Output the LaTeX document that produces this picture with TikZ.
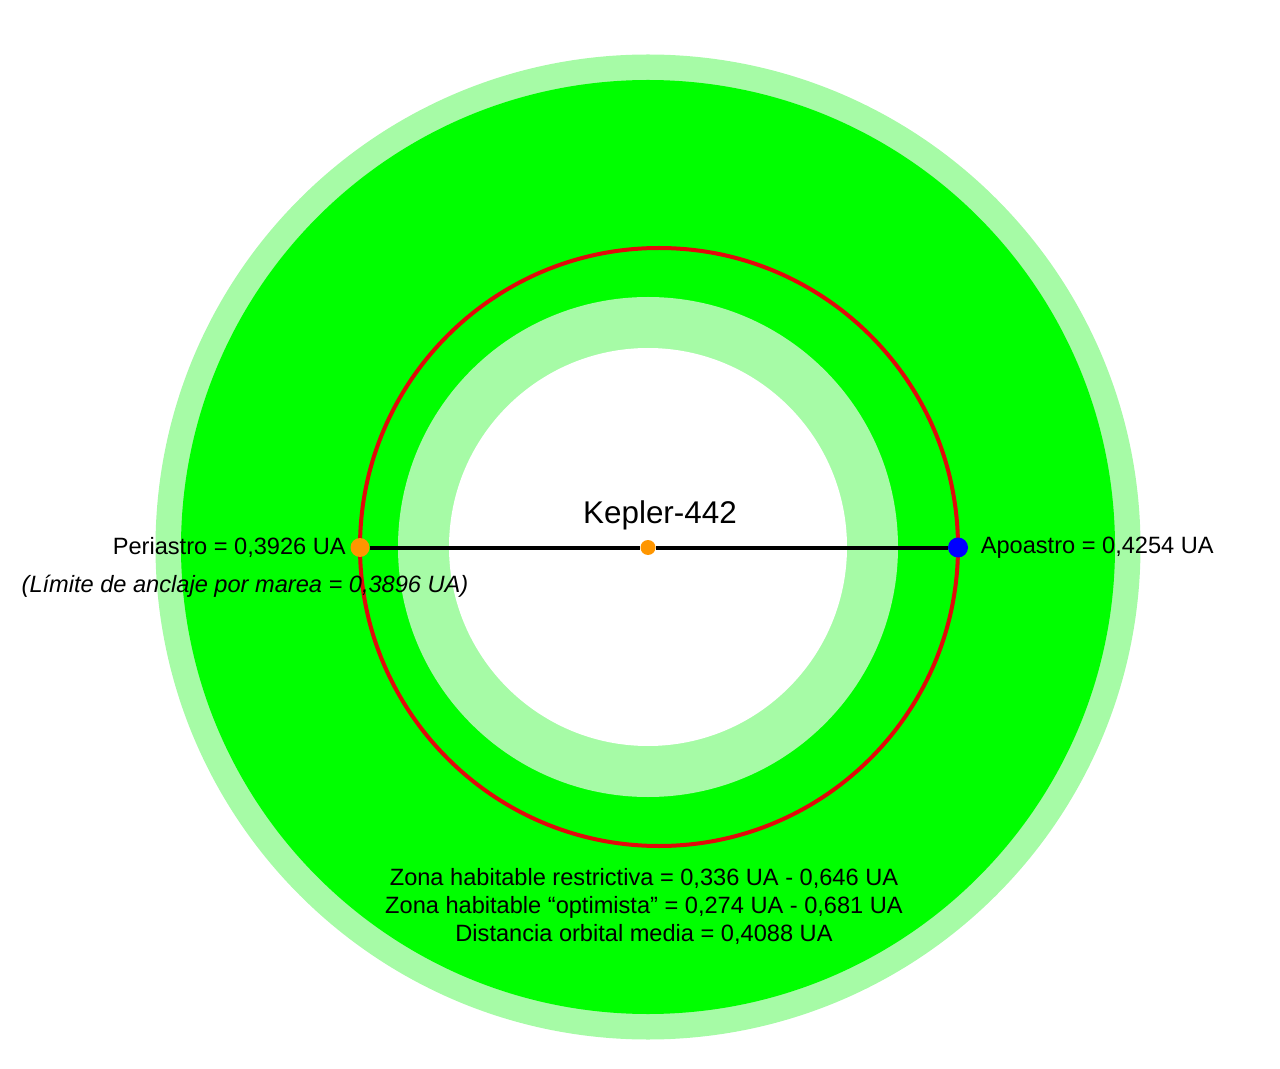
\documentclass[tikz,border=0pt]{standalone}
\usepackage{fontspec}
\setmainfont{Liberation Sans}
\usetikzlibrary{positioning}

\definecolor{zonalight}{RGB}{166,251,166}
\definecolor{zonegreen}{RGB}{0,255,0}
\definecolor{orbitred}{RGB}{225,10,10}
\definecolor{dotorange}{RGB}{255,150,0}
\definecolor{dotblue}{RGB}{0,0,255}

\tikzset{
  dot/.style={circle, inner sep=0pt, draw=none},
  lbl/.style={font=\fontsize{11.8}{14}\selectfont, inner sep=1pt}
}

\begin{document}
\begin{tikzpicture}[x=0.5pt, y=-0.5pt]
    \useasboundingbox (0,0) rectangle (1280,1069);

    % habitable zones
    \fill[zonalight] (648,547) circle (492.5);
    \fill[zonegreen] (648,547) circle (467);
    \fill[zonalight] (648,547) circle (250);
    \fill[white] (648,547) circle (199);

    % orbit
    \draw[orbitred, line width=2pt] (659,547) circle (299);

    \node[dot, fill=dotorange, minimum size=9.5pt] (peri) at (360,547.5) {};
    \node[dot, fill=dotorange, minimum size=7.5pt] (star) at (648,547.5) {};
    \node[dot, fill=dotblue, minimum size=10pt] (apo) at (958,547.5) {};

    \draw[line width=2pt] (peri) -- (star);
    \draw[line width=2pt] (star) -- (apo);

    \node[font=\fontsize{15.7}{19}\selectfont] (name) at (660,515) {Kepler-442};
    \node[lbl, left=1pt of peri] (perilbl) {Periastro = 0,3926 UA};
    \node[lbl, font=\fontsize{11.8}{14}\selectfont\itshape] (tidal) at (245,586) {(Límite de anclaje por marea = 0,3896 UA)};
    \node[lbl, right=5pt of apo] (apolbl) {Apoastro = 0,4254 UA};

    \node[lbl, align=center] (info) at (644,906) {Zona habitable restrictiva = 0,336 UA - 0,646 UA\\
        Zona habitable “optimista” = 0,274 UA - 0,681 UA\\
        Distancia orbital media = 0,4088 UA};
\end{tikzpicture}
\end{document}
